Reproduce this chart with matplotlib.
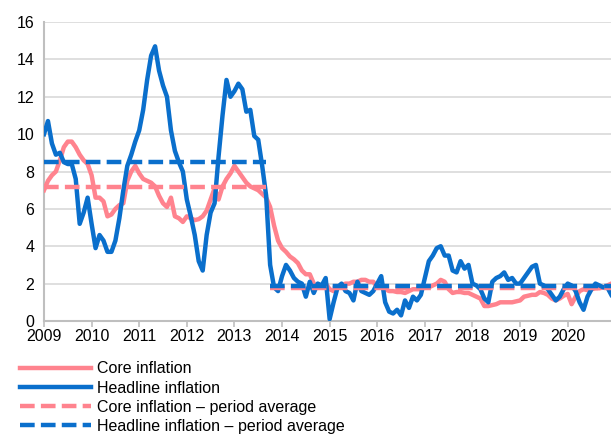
import numpy as np
import matplotlib
matplotlib.use("Agg")
import matplotlib.pyplot as plt

plt.rcParams['font.family'] = ['Liberation Sans', 'DejaVu Sans']

# === Data: monthly y-o-y rates, Jan 2009 - Dec 2020 ===
headline = [
    10.0, 10.7, 9.5, 8.9, 9.0, 8.5, 8.4, 8.4, 7.6, 5.2, 5.8, 6.6,   # 2009
    5.2, 3.9, 4.6, 4.3, 3.7, 3.7, 4.3, 5.5, 7.0, 8.3, 8.9, 9.6,     # 2010
    10.2, 11.3, 12.9, 14.2, 14.7, 13.4, 12.6, 12.0, 10.2, 9.1, 8.5, 8.0,  # 2011
    6.5, 5.6, 4.6, 3.2, 2.7, 4.6, 5.8, 6.3, 8.8, 11.0, 12.9, 12.0,  # 2012
    12.3, 12.7, 12.4, 11.2, 11.3, 9.9, 9.7, 8.3, 6.7, 3.0, 1.8, 1.6,  # 2013
    2.4, 3.0, 2.7, 2.3, 2.1, 2.0, 1.3, 2.1, 1.5, 2.0, 1.9, 2.3,     # 2014
    0.1, 1.0, 1.8, 2.0, 1.6, 1.5, 1.1, 2.1, 1.6, 1.5, 1.4, 1.6,     # 2015
    2.0, 2.4, 1.0, 0.5, 0.4, 0.6, 0.3, 1.1, 0.7, 1.3, 1.1, 1.4,     # 2016
    2.3, 3.2, 3.5, 3.9, 4.0, 3.5, 3.5, 2.7, 2.6, 3.2, 2.8, 3.0,     # 2017
    2.0, 1.9, 1.7, 1.2, 1.0, 2.1, 2.3, 2.4, 2.6, 2.2, 2.3, 2.0,     # 2018
    2.0, 2.3, 2.6, 2.9, 3.0, 2.0, 1.9, 1.7, 1.4, 1.1, 1.3, 1.7,     # 2019
    2.0, 1.9, 1.6, 1.0, 0.6, 1.3, 1.7, 2.0, 1.9, 1.8, 1.8, 1.4,     # 2020
]
core = [
    7.0, 7.5, 7.8, 8.0, 8.6, 9.3, 9.6, 9.6, 9.3, 8.9, 8.6, 8.4,     # 2009
    7.8, 6.6, 6.6, 6.4, 5.6, 5.7, 6.0, 6.2, 6.3, 7.5, 8.0, 8.3,     # 2010
    7.9, 7.6, 7.5, 7.4, 7.2, 6.7, 6.3, 6.1, 6.6, 5.6, 5.5, 5.3,     # 2011
    5.6, 5.5, 5.4, 5.45, 5.6, 5.9, 6.5, 7.1, 6.5, 7.2, 7.6, 7.9,    # 2012
    8.3, 8.0, 7.7, 7.4, 7.2, 7.1, 7.0, 6.8, 6.6, 6.1, 5.1, 4.3,     # 2013
    3.9, 3.7, 3.45, 3.3, 3.1, 2.7, 2.5, 2.5, 2.0, 1.8, 1.9, 2.0,    # 2014
    1.7, 1.6, 1.8, 1.9, 2.0, 2.0, 2.1, 2.1, 2.2, 2.2, 2.1, 2.1,     # 2015
    1.8, 1.8, 1.7, 1.6, 1.6, 1.55, 1.55, 1.5, 1.6, 1.7, 1.7, 1.7,   # 2016
    1.8, 1.8, 1.9, 2.0, 2.2, 2.1, 1.7, 1.5, 1.55, 1.55, 1.5, 1.5,   # 2017
    1.4, 1.3, 1.2, 0.8, 0.8, 0.85, 0.9, 1.0, 1.0, 1.0, 1.0, 1.05,   # 2018
    1.1, 1.3, 1.35, 1.4, 1.4, 1.55, 1.5, 1.4, 1.2, 1.1, 1.2, 1.35,  # 2019
    1.45, 0.9, 1.3, 1.6, 1.7, 1.65, 1.7, 1.75, 1.75, 1.8, 1.9, 2.0, # 2020
]

# period averages: (start, end) as decimal years
periods = [(2009.0, 2013.67), (2013.75, 2020.92)]
core_avg = [7.15, 1.75]
headline_avg = [8.52, 1.85]

years = list(range(2009, 2021))

pink = '#FF838E'
blue = '#0A6FCC'
fs = 11.5

t = 2009 + np.arange(len(headline)) / 12

fig = plt.figure(figsize=(6.11, 4.36), dpi=100)
ax = fig.add_axes([0.072, 0.2638, 0.928, 0.6857])

lw = 3.2
dash = (3.3, 1.4)

ax.plot(t, core, color=pink, lw=lw, label='Core inflation', zorder=3)
ax.plot(t, headline, color=blue, lw=lw, label='Headline inflation', zorder=4)
for i, (a, b) in enumerate(periods):
    ax.plot([a, b], [core_avg[i]] * 2, color=pink, lw=lw, dashes=dash,
            label='Core inflation \u2013 period average' if i == 0 else None, zorder=5)
    ax.plot([a, b], [headline_avg[i]] * 2, color=blue, lw=lw, dashes=dash,
            label='Headline inflation \u2013 period average' if i == 0 else None, zorder=6)

ax.set_ylim(0, 16)
ax.set_yticks(range(0, 17, 2))
ax.set_xlim(2009, 2020.91)
ax.set_xticks(years)
ax.set_xticklabels([str(y) for y in years])
ax.grid(axis='y', color='#DCDCDC', lw=1.3)
ax.set_axisbelow(True)
for s in ['top', 'right']:
    ax.spines[s].set_visible(False)
for s in ['left', 'bottom']:
    ax.spines[s].set_color('#BFBFBF')
    ax.spines[s].set_linewidth(1.5)
ax.tick_params(axis='y', length=0, labelsize=fs, pad=7)
ax.tick_params(axis='x', length=4, color='#BFBFBF', width=1.2, labelsize=fs, pad=2)

handles, labels = ax.get_legend_handles_labels()
fig.legend(handles, labels, loc='upper left', bbox_to_anchor=(0.032, 0.171),
           frameon=False, fontsize=fs, handlelength=4.45, handletextpad=0.4,
           labelspacing=0.26, borderaxespad=0, borderpad=0)

fig.savefig('out.png', dpi=100)
